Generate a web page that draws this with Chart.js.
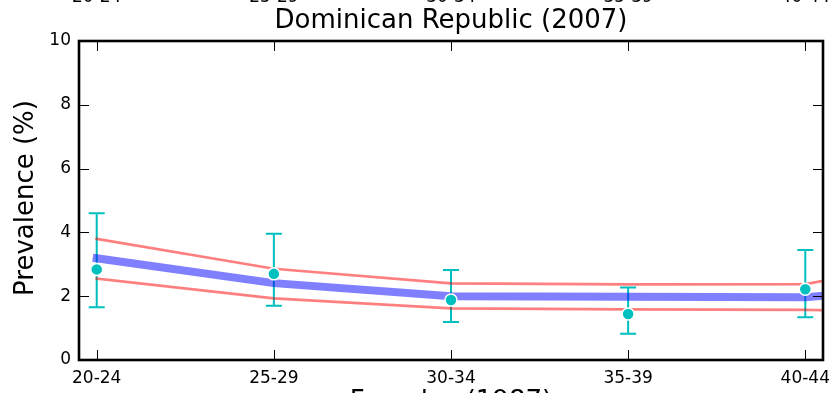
<!DOCTYPE html>
<html>
<head>
<meta charset="utf-8">
<script src="https://cdn.jsdelivr.net/npm/chart.js@4/dist/chart.umd.min.js"></script>
<style>
  html, body { margin: 0; padding: 0; background: #fff; overflow: hidden; }
  #wrap { width: 835px; height: 393px; }
</style>
</head>
<body>
<div id="wrap"><canvas id="prevalenceChart" width="835" height="393"></canvas></div>
<script>
// age groups on the x axis (the last one is only reached by the model lines)
const ageGroups = ['20-24', '25-29', '30-34', '35-39', '40-44'];
const modelAges = ['20-24', '25-29', '30-34', '35-39', '40-44', '45-49'];

// observed prevalence with its error bars
const observed = [2.84, 2.70, 1.88, 1.44, 2.22];
const obsLower = [1.65, 1.70, 1.19, 0.82, 1.34];
const obsUpper = [4.60, 3.96, 2.82, 2.27, 3.45];

// model fit and its band
const modelMean = [3.19, 2.41, 2.00, 1.98, 1.97, 2.40];
const modelUpper = [3.80, 2.86, 2.40, 2.37, 2.38, 3.40];
const modelLower = [2.55, 1.93, 1.62, 1.59, 1.57, 1.47];

const yTicks = [0, 2, 4, 6, 8, 10];

const titleText = 'Dominican Republic (2007)';
const xTitle = 'Females (1987)';
const yTitle = 'Prevalence (%)';

const FONT = '"DejaVu Sans", sans-serif';
const CYAN = '#00bfbf';

const toPoints = (vals) => vals.map((v, i) => ({x: i, y: v}));

// error bars go under the lines, like the original
const errorBars = {
    id: 'errorBars',
    beforeDatasetsDraw(chart) {
        const {ctx, scales: {x, y}} = chart;
        ctx.save();
        ctx.strokeStyle = CYAN;
        ctx.lineWidth = 2;
        observed.forEach((v, i) => {
            const px = x.getPixelForValue(i);
            const top = y.getPixelForValue(obsUpper[i]);
            const bot = y.getPixelForValue(obsLower[i]);
            ctx.beginPath();
            ctx.moveTo(px, top); ctx.lineTo(px, bot);
            ctx.moveTo(px - 8, top); ctx.lineTo(px + 8, top);
            ctx.moveTo(px - 8, bot); ctx.lineTo(px + 8, bot);
            ctx.stroke();
        });
        ctx.restore();
    }
};

// matplotlib-ish frame, inward ticks and the texts
const frame = {
    id: 'frame',
    afterDraw(chart) {
        const {ctx, chartArea: a, scales: {x, y}} = chart;
        ctx.save();
        ctx.strokeStyle = '#000';
        ctx.lineWidth = 1;
        ctx.beginPath();
        ageGroups.forEach((g, i) => {
            const px = Math.round(x.getPixelForValue(i)) + 0.5;
            ctx.moveTo(px, a.bottom); ctx.lineTo(px, a.bottom - 10);
            ctx.moveTo(px, a.top); ctx.lineTo(px, a.top + 10);
        });
        yTicks.forEach(t => {
            const py = Math.round(y.getPixelForValue(t)) + 0.5;
            ctx.moveTo(a.left, py); ctx.lineTo(a.left + 10, py);
            ctx.moveTo(a.right, py); ctx.lineTo(a.right - 10, py);
        });
        ctx.stroke();

        ctx.lineWidth = 2.6;
        ctx.strokeRect(a.left, a.top, a.right - a.left, a.bottom - a.top);

        ctx.fillStyle = '#000';
        ctx.textBaseline = 'alphabetic';
        ctx.textAlign = 'center';

        // tick labels of the panel above, cut by the page edge
        ctx.font = '17px ' + FONT;
        ageGroups.forEach((g, i) => ctx.fillText(g, x.getPixelForValue(i), 2));

        ctx.font = '26px ' + FONT;
        ctx.fillText(titleText, (a.left + a.right) / 2, 28);
        ctx.fillText(xTitle, (a.left + a.right) / 2, 409);

        ctx.translate(33, 198);
        ctx.rotate(-Math.PI / 2);
        ctx.fillText(yTitle, 0, 0);
        ctx.restore();
    }
};

// keep the plot box where the original has it
const pinBox = (s) => {
    s.paddingLeft = 0; s.paddingRight = 0;
    s.paddingTop = 0; s.paddingBottom = 0;
};

new Chart(document.getElementById('prevalenceChart'), {
    type: 'line',
    data: {
        datasets: [
            {
                label: 'observed',
                type: 'scatter',
                data: toPoints(observed),
                showLine: false,
                pointRadius: 6,
                pointBackgroundColor: CYAN,
                pointBorderColor: '#fff',
                pointBorderWidth: 1.5,
                order: 0
            },
            {
                label: 'upper',
                data: toPoints(modelUpper),
                borderColor: 'rgba(255,0,0,0.5)',
                borderWidth: 2.7,
                borderCapStyle: 'square',
                pointRadius: 0,
                tension: 0,
                order: 1
            },
            {
                label: 'lower',
                data: toPoints(modelLower),
                borderColor: 'rgba(255,0,0,0.5)',
                borderWidth: 2.7,
                borderCapStyle: 'square',
                pointRadius: 0,
                tension: 0,
                order: 2
            },
            {
                label: 'mean',
                data: toPoints(modelMean),
                borderColor: 'rgba(0,0,255,0.5)',
                borderWidth: 8,
                borderCapStyle: 'square',
                pointRadius: 0,
                tension: 0,
                order: 3
            }
        ]
    },
    options: {
        responsive: false,
        animation: false,
        events: [],
        layout: {padding: {left: 0, right: 12, top: 41, bottom: 0}},
        plugins: {legend: {display: false}, tooltip: {enabled: false}, title: {display: false}},
        scales: {
            x: {
                type: 'linear',
                min: -0.1,
                max: 4.1,
                grid: {display: false, drawTicks: false},
                border: {display: false},
                afterBuildTicks: (s) => { s.ticks = ageGroups.map((g, i) => ({value: i})); },
                afterFit: (s) => { s.height = 33; pinBox(s); },
                ticks: {
                    padding: 8,
                    autoSkip: false,
                    maxRotation: 0,
                    color: '#000',
                    font: {family: FONT, size: 17},
                    callback: (v) => ageGroups[v]
                }
            },
            y: {
                min: 0,
                max: 10,
                grid: {display: false, drawTicks: false},
                border: {display: false},
                afterBuildTicks: (s) => { s.ticks = yTicks.map(t => ({value: t})); },
                afterFit: (s) => { s.width = 79; pinBox(s); },
                ticks: {
                    padding: 8,
                    color: '#000',
                    font: {family: FONT, size: 17}
                }
            }
        }
    },
    plugins: [errorBars, frame]
});
</script>
</body>
</html>
